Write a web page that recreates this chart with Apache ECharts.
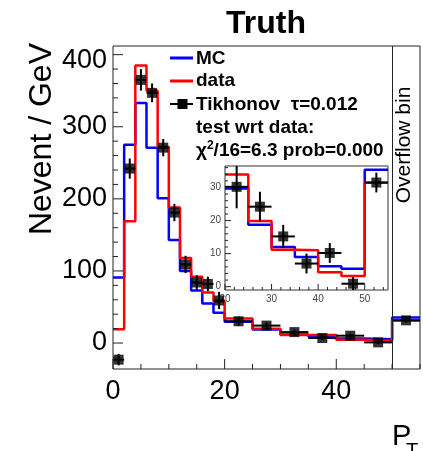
<!DOCTYPE html>
<html><head><meta charset="utf-8">
<script src="https://cdn.jsdelivr.net/npm/echarts@6/dist/echarts.min.js"></script>
<style>html,body{margin:0;padding:0;background:#fff}#c{width:423px;height:451px}</style>
</head><body><div id="c"></div>
<script>
// ---- data ----
const binEdges = [0, 2, 4, 6, 8, 10, 12, 14, 16, 18, 20, 25, 30, 35, 40, 45, 50, 55];
const mcValues = [91, 275, 333, 271, 201, 143, 100, 73, 55, 42, 29.7, 18.7, 12.0, 9.0, 6.2, 5.4, 35.4];
const dataValues = [19, 169, 385, 350, 272, 188, 118, 92, 70, 58, 33.9, 19.9, 11.2, 11.0, 4.4, 3.2, 31.4];
const tikhonovValues = [-23, 242, 365, 347, 271, 181, 109, 84, 82, 59, 30.2, 24.2, 15.2, 7.0, 10.2, 0.9, 31.5];
const tikhonovErrors = [8, 14, 15, 13, 12, 12, 12, 10, 10, 12, 6.5, 4.5, 3.5, 3, 3, 2, 3];
const xTickLabels = [0, 20, 40];
const yTickLabels = [0, 100, 200, 300, 400];
const insetXTickLabels = [20, 30, 40, 50];
const insetYTickLabels = [0, 10, 20, 30];

const FONT = '"Liberation Sans", Arial, Helvetica, sans-serif';

// ---- helpers building series data ----
function histPath(lo) {
  return function (vals) {
    const out = [];
    for (let i = 0; i < vals.length; i++) {
      if (binEdges[i] < lo) continue;
      out.push([binEdges[i], vals[i]]);
      out.push([binEdges[i + 1], vals[i]]);
    }
    return out;
  };
}
function pointData(lo) {
  const out = [];
  for (let i = 0; i < tikhonovValues.length; i++) {
    if (binEdges[i] < lo) continue;
    const c = (binEdges[i] + binEdges[i + 1]) / 2;
    const hw = (binEdges[i + 1] - binEdges[i]) / 2;
    out.push([c, tikhonovValues[i], hw, tikhonovErrors[i]]);
  }
  return out;
}
function range(a, b, s) { const r = []; for (let v = a; v <= b + 1e-9; v += s) r.push(+v.toFixed(6)); return r; }

const yMinor = range(-20, 400, 20).filter(v => !yTickLabels.includes(v));
const xMinor = range(0, 55, 5).filter(v => !xTickLabels.includes(v));
const iyMinor = range(0, 36, 2).filter(v => !insetYTickLabels.includes(v));
const ixMinor = range(20, 54, 2).filter(v => !insetXTickLabels.includes(v));

function errRender(params, api) {
  const x = api.value(0), y = api.value(1), ex = api.value(2), ey = api.value(3);
  const c = api.coord([x, y]), l = api.coord([x - ex, y]), r = api.coord([x + ex, y]);
  const t = api.coord([x, y + ey]), b = api.coord([x, y - ey]);
  return { type: 'group', children: [
    { type: 'line', shape: { x1: l[0], y1: c[1], x2: r[0], y2: c[1] }, style: { stroke: '#000', lineWidth: 2 } },
    { type: 'line', shape: { x1: c[0], y1: t[1], x2: c[0], y2: b[1] }, style: { stroke: '#000', lineWidth: 2 } }
  ]};
}
function yTickRender(x0, majLen, minLen) {
  return function (params, api) {
    const p = api.coord([x0, api.value(0)]);
    const len = api.value(1) ? majLen : minLen;
    return { type: 'line', shape: { x1: p[0], y1: p[1], x2: p[0] + len, y2: p[1] }, style: { stroke: '#222', lineWidth: 1 } };
  };
}
function xTickRender(y0, majLen, minLen) {
  return function (params, api) {
    const p = api.coord([api.value(0), y0]);
    const len = api.value(1) ? majLen : minLen;
    return { type: 'line', shape: { x1: p[0], y1: p[1], x2: p[0], y2: p[1] - len }, style: { stroke: '#222', lineWidth: 1 } };
  };
}
const tickData = (maj, min) => maj.map(v => [v, 1]).concat(min.map(v => [v, 0]));

const mainHist = histPath(0), insetHist = histPath(20);

const chart = echarts.init(document.getElementById('c'), null, { renderer: 'canvas' });
chart.setOption({
  animation: false,
  backgroundColor: '#fff',
  grid: [
    { left: 113, right: 3, top: 46, bottom: 82, show: true, borderColor: '#222', borderWidth: 1, backgroundColor: 'transparent' },
    { left: 225, right: 35, top: 166, bottom: 161, show: true, borderColor: '#333', borderWidth: 1, backgroundColor: '#fff', z: 3 }
  ],
  xAxis: [
    { gridIndex: 0, type: 'value', min: 0, max: 55, interval: 5,
      axisLine: { show: false }, axisTick: { show: false }, splitLine: { show: false },
      axisLabel: { margin: 9, fontSize: 27, fontFamily: FONT, color: '#000',
        formatter: v => xTickLabels.includes(Math.round(v)) ? String(Math.round(v)) : '' } },
    { gridIndex: 1, type: 'value', min: 20, max: 55, interval: 5,
      axisLine: { show: false }, axisTick: { show: false }, splitLine: { show: false },
      axisLabel: { margin: 4, fontSize: 10, fontFamily: FONT, color: '#444',
        formatter: v => insetXTickLabels.includes(Math.round(v)) ? String(Math.round(v)) : '' } }
  ],
  yAxis: [
    { gridIndex: 0, type: 'value', min: -36, max: 412, interval: 4,
      axisLine: { show: false }, axisTick: { show: false }, splitLine: { show: false },
      axisLabel: { margin: 6, fontSize: 27, fontFamily: FONT, color: '#000',
        formatter: v => {
          const r = Math.round(v);
          if (Math.abs(v - r) > 1e-6 || !yTickLabels.includes(r)) return '';
          return r === 400 ? '{t|400}' : String(r);
        },
        rich: { t: { fontSize: 27, fontFamily: FONT, color: '#000', padding: [12, 0, 0, 0] } } } },
    { gridIndex: 1, type: 'value', min: -1, max: 36.5, interval: 0.5,
      axisLine: { show: false }, axisTick: { show: false }, splitLine: { show: false },
      axisLabel: { margin: 4, fontSize: 10, fontFamily: FONT, color: '#444',
        formatter: v => {
          const r = Math.round(v);
          return (Math.abs(v - r) < 1e-6 && insetYTickLabels.includes(r)) ? String(r) : '';
        } } }
  ],
  series: [
    { type: 'line', name: 'MC', xAxisIndex: 0, yAxisIndex: 0, data: mainHist(mcValues), symbol: 'none',
      lineStyle: { color: '#0000ff', width: 2.5 }, z: 2 },
    { type: 'line', name: 'data', xAxisIndex: 0, yAxisIndex: 0, data: mainHist(dataValues), symbol: 'none',
      lineStyle: { color: '#ff0000', width: 2.5 }, z: 3 },
    { type: 'custom', name: 'err', xAxisIndex: 0, yAxisIndex: 0, data: pointData(0), renderItem: errRender, clip: false, z: 4 },
    { type: 'scatter', name: 'Tikhonov', xAxisIndex: 0, yAxisIndex: 0, data: pointData(0).map(d => [d[0], d[1]]),
      symbol: 'rect', symbolSize: 10, itemStyle: { color: '#000' }, z: 5,
      markLine: { silent: true, symbol: ['none', 'none'], label: { show: false },
        lineStyle: { color: '#222', width: 1, type: 'solid' }, data: [{ xAxis: 50 }] } },
    { type: 'custom', xAxisIndex: 0, yAxisIndex: 0, data: tickData(yTickLabels, yMinor), renderItem: yTickRender(0, 10, 5), clip: false, z: 6 },
    { type: 'custom', xAxisIndex: 0, yAxisIndex: 0, data: tickData(xTickLabels, xMinor), renderItem: xTickRender(-36, 10, 5), clip: false, z: 6 },

    { type: 'line', xAxisIndex: 1, yAxisIndex: 1, data: insetHist(mcValues), symbol: 'none',
      lineStyle: { color: '#0000ff', width: 2.5 }, z: 12 },
    { type: 'line', xAxisIndex: 1, yAxisIndex: 1, data: insetHist(dataValues), symbol: 'none',
      lineStyle: { color: '#ff0000', width: 2.5 }, z: 13 },
    { type: 'custom', xAxisIndex: 1, yAxisIndex: 1, data: pointData(20), renderItem: errRender, clip: true, z: 14 },
    { type: 'scatter', xAxisIndex: 1, yAxisIndex: 1, data: pointData(20).map(d => [d[0], d[1]]),
      symbol: 'rect', symbolSize: 10, itemStyle: { color: '#000' }, z: 15 },
    { type: 'custom', xAxisIndex: 1, yAxisIndex: 1, data: tickData(insetYTickLabels, iyMinor), renderItem: yTickRender(20, 6, 3), clip: false, z: 16 },
    { type: 'custom', xAxisIndex: 1, yAxisIndex: 1, data: tickData(insetXTickLabels, ixMinor), renderItem: xTickRender(-1, 6, 3), clip: false, z: 16 }
  ],
  graphic: [
    { type: 'text', x: 266, y: 24, style: { text: 'Truth', font: 'bold 32px ' + FONT, fill: '#000', align: 'center', verticalAlign: 'middle', textAlign: 'center', textVerticalAlign: 'middle' } },
    { type: 'text', x: 42, y: 43, rotation: Math.PI / 2, style: { text: 'Nevent / GeV', font: '32px ' + FONT, fill: '#000', align: 'right', verticalAlign: 'middle', textAlign: 'right', textVerticalAlign: 'middle' } },
    { type: 'text', x: 404, y: 145, rotation: Math.PI / 2, style: { text: 'Overflow bin', font: '21px ' + FONT, fill: '#000', align: 'center', verticalAlign: 'middle', textAlign: 'center', textVerticalAlign: 'middle' } },
    { type: 'text', x: 392, y: 437, style: { text: 'P', font: '29px ' + FONT, fill: '#000', align: 'left', verticalAlign: 'middle', textAlign: 'left', textVerticalAlign: 'middle' } },
    { type: 'text', x: 406, y: 451, style: { text: 'T', font: '20px ' + FONT, fill: '#000', align: 'left', verticalAlign: 'middle', textAlign: 'left', textVerticalAlign: 'middle' } },
    // legend
    { type: 'line', shape: { x1: 170, y1: 58, x2: 193, y2: 58 }, style: { stroke: '#0000ff', lineWidth: 3 } },
    { type: 'text', x: 196, y: 59, style: { text: 'MC', font: 'bold 19px ' + FONT, fill: '#000', align: 'left', verticalAlign: 'middle', textAlign: 'left', textVerticalAlign: 'middle' } },
    { type: 'line', shape: { x1: 170, y1: 81, x2: 193, y2: 81 }, style: { stroke: '#ff0000', lineWidth: 3 } },
    { type: 'text', x: 196, y: 81, style: { text: 'data', font: 'bold 19px ' + FONT, fill: '#000', align: 'left', verticalAlign: 'middle', textAlign: 'left', textVerticalAlign: 'middle' } },
    { type: 'line', shape: { x1: 170, y1: 104, x2: 193, y2: 104 }, style: { stroke: '#000', lineWidth: 2 } },
    { type: 'rect', shape: { x: 177.5, y: 99, width: 10, height: 10 }, style: { fill: '#000' } },
    { type: 'text', x: 196, y: 105, style: { text: 'Tikhonov  τ=0.012', font: 'bold 19px ' + FONT, fill: '#000', align: 'left', verticalAlign: 'middle', textAlign: 'left', textVerticalAlign: 'middle' } },
    { type: 'text', x: 196, y: 128, style: { text: 'test wrt data:', font: 'bold 19px ' + FONT, fill: '#000', align: 'left', verticalAlign: 'middle', textAlign: 'left', textVerticalAlign: 'middle' } },
    { type: 'text', x: 196, y: 151, style: { text: '{c|χ}{s|2}{n|/16=6.3 prob=0.000}', fill: '#000', align: 'left', verticalAlign: 'middle', textAlign: 'left', textVerticalAlign: 'middle',
      rich: { c: { font: 'bold 19px ' + FONT, lineHeight: 22 }, s: { font: 'bold 12px ' + FONT, lineHeight: 12, verticalAlign: 'top' }, n: { font: 'bold 19px ' + FONT, lineHeight: 22 } } } }
  ]
});
</script>
</body></html>
